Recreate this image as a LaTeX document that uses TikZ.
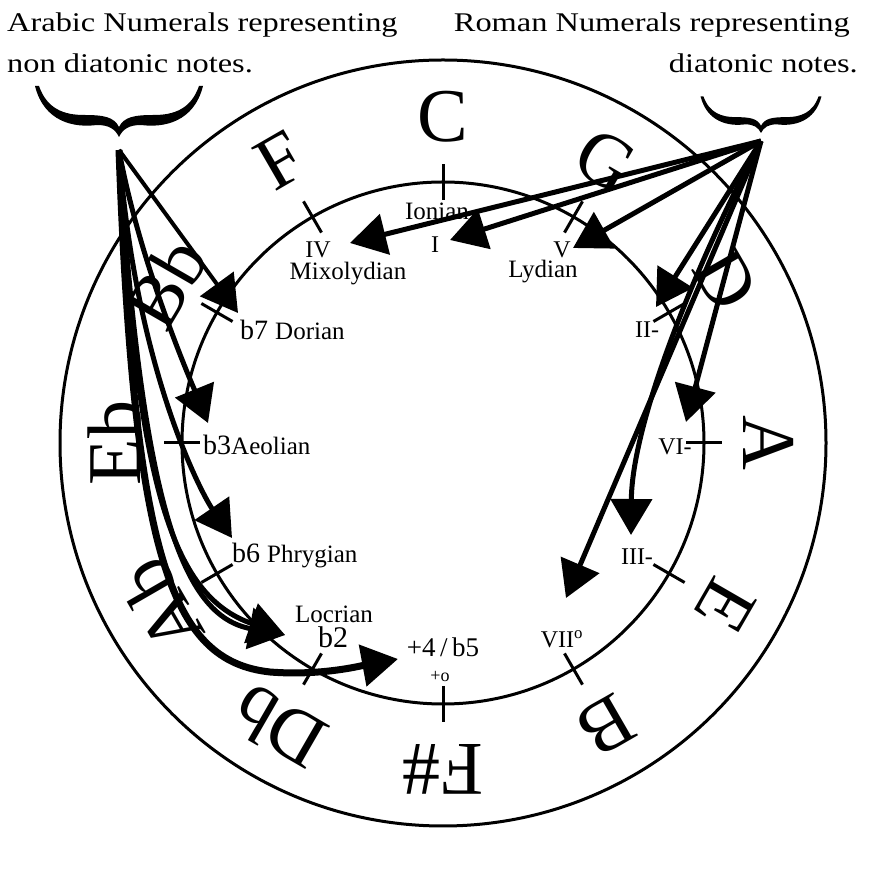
\documentclass[tikz,border=0pt]{standalone}
\usepackage{fontspec}
\setmainfont{Liberation Serif}
\newfontfamily\headfont[FakeStretch=1.2]{Liberation Serif}
\usetikzlibrary{arrows.meta}

\tikzset{
  note/.style={inner sep=0pt,font=\fontsize{76}{76}\selectfont},
  mode/.style={inner sep=0pt,anchor=base,font=\fontsize{25}{28}\selectfont},
  degree/.style={inner sep=0pt,anchor=base,font=\fontsize{24}{28}\selectfont},
  headtext/.style={inner sep=0pt,font=\headfont\fontsize{27}{30}\selectfont},
  modetick/.style={line width=3pt},
  pointer/.style={line width=5pt,-{Triangle[length=36pt,width=41pt]}},
  curlybrace/.pic={
    \fill (0,0) .. controls (-4,8) and (-10,12) .. (-22,12)
      .. controls (-45,9) and (-75,15) .. (-84,51) -- (-80,51)
      .. controls (-72,28) and (-55,22) .. (-35,22)
      .. controls (-15,22) and (-5,20) .. (0,10)
      .. controls (5,20) and (15,22) .. (35,22)
      .. controls (55,22) and (72,28) .. (80,51) -- (84,51)
      .. controls (75,15) and (45,9) .. (22,12)
      .. controls (10,12) and (4,8) .. (0,0) -- cycle;
  }
}

\begin{document}
\begin{tikzpicture}[x=1pt,y=1pt]
    \useasboundingbox (0,0) rectangle (886,886);
    \draw[line width=3pt](443,443) circle [radius=383];
    \draw[line width=3pt](443,443) circle [radius=261];
    \begin{scope}[shift={(443,443)}]
        \draw[modetick](90:243)--(90:279);
        \draw[modetick](60:243)--(60:279);
        \draw[modetick](30:243)--(30:279);
        \draw[modetick](0:243)--(0:279);
        \draw[modetick](-30:243)--(-30:279);
        \draw[modetick](-60:243)--(-60:279);
        \draw[modetick](-90:243)--(-90:279);
        \draw[modetick](-120:243)--(-120:279);
        \draw[modetick](-150:243)--(-150:279);
        \draw[modetick](180:243)--(180:279);
        \draw[modetick](150:243)--(150:279);
        \draw[modetick](120:243)--(120:279);
        \node[note] (C) at (90:326) {C};
        \node[note,rotate=-30] (G) at (60:326) {G};
        \node[note,rotate=-60] (D) at (30:326) {D};
        \node[note,rotate=-90] (A) at (0:326) {A};
        \node[note,rotate=-120] (E) at (-30:326) {E};
        \node[note,rotate=-150] (B) at (-60:326) {B};
        \node[note,rotate=180] (Fs) at (-90:326) {F\#};
        \node[note,rotate=150] (Db) at (-120:328) {Db};
        \node[note,rotate=120] (Ab) at (-150:326) {Ab};
        \node[note,rotate=90] (Eb) at (180:328) {Eb};
        \node[note,rotate=60] (Bb) at (150:320) {Bb};
        \node[note,rotate=30] (F) at (120:326) {F};
    \end{scope}
    \node[mode] (ionian) at (437,666) {Ionian};
    \node[degree] (one) at (435,633) {I};
    \node[degree] (four) at (318,628) {IV};
    \node[mode] (mixolydian) at (348,606) {Mixolydian};
    \node[degree] (five) at (562,628) {V};
    \node[mode] (lydian) at (543,608) {Lydian};
    \node[degree] (two) at (647,548) {II-};
    \node[degree] (six) at (675,431) {VI-};
    \node[degree] (three) at (637,321) {III-};
    \node[degree] (seven) at (562,238) {VII\textsuperscript{o}};
    \node[mode,font=\fontsize{27}{30}\selectfont] (tritone) at (443,229) {+4\,/\,b5};
    \node[mode,font=\fontsize{18}{20}\selectfont] (aug) at (440,204) {+o};
    \node[mode] (locrian) at (334,263) {Locrian};
    \node[mode,font=\fontsize{30}{32}\selectfont] (flattwo) at (333,238) {b2};
    \node[inner sep=0pt,anchor=base west] (dorian) at (240,546)
        {\fontsize{28}{30}\selectfont b7 \fontsize{25}{28}\selectfont Dorian};
    \node[inner sep=0pt,anchor=base west] (aeolian) at (203,431)
        {\fontsize{28}{30}\selectfont b3\fontsize{25}{28}\selectfont Aeolian};
    \node[inner sep=0pt,anchor=base west] (phrygian) at (232,323)
        {\fontsize{28}{30}\selectfont b6 \fontsize{25}{28}\selectfont Phrygian};
    \node[headtext,anchor=base west] (arabictitle) at (7,854) {Arabic Numerals representing};
    \node[headtext,anchor=base west] (arabicsub) at (7,813) {non diatonic notes.};
    \node[headtext,anchor=base east] (romantitle) at (850,854) {Roman Numerals representing};
    \node[headtext,anchor=base east] (romansub) at (858,813) {diatonic notes.};
    \pic at (119,749) {curlybrace};
    \pic[scale=0.72] at (761,753) {curlybrace};
    \coordinate (arabic) at (119,736);
    \coordinate (roman) at (761,745);
    \coordinate (tb7) at (238,573);
    \coordinate (tb3) at (208,463);
    \coordinate (tb6) at (232,348);
    \coordinate (tb2) at (285,251);
    \coordinate (tb5) at (398,227);
    \coordinate (tIV) at (350,643);
    \coordinate (tI) at (450,646);
    \coordinate (tV) at (573,638);
    \coordinate (tII) at (656,579);
    \coordinate (tVI) at (686,464);
    \coordinate (tIII) at (631,351);
    \coordinate (tVII) at (566,288);
    \draw[pointer,line width=4pt](arabic)--(tb7);
    \draw[pointer](arabic) .. controls (140,620) and (195,495) .. (tb3);
    \draw[pointer](arabic) .. controls (135,520) and (200,395) .. (tb6);
    \draw[pointer](arabic) .. controls (142,380) and (182,270) .. (tb2);
    \draw[pointer](arabic) .. controls (136,400) and (172,290) .. (tb2);
    \draw[pointer,line width=7pt](arabic) .. controls (134,330) and (170,225) .. (270,214)
        .. controls (320,210) and (360,220) .. (tb5);
    \draw[pointer](roman)--(tIV);
    \draw[pointer](roman)--(tI);
    \draw[pointer](roman)--(tV);
    \draw[pointer](roman)--(tII);
    \draw[pointer](roman)--(tVI);
    \draw[pointer](roman) .. controls (700,631) and (632,466) .. (tIII);
    \draw[pointer](roman)--(tVII);
\end{tikzpicture}
\end{document}
